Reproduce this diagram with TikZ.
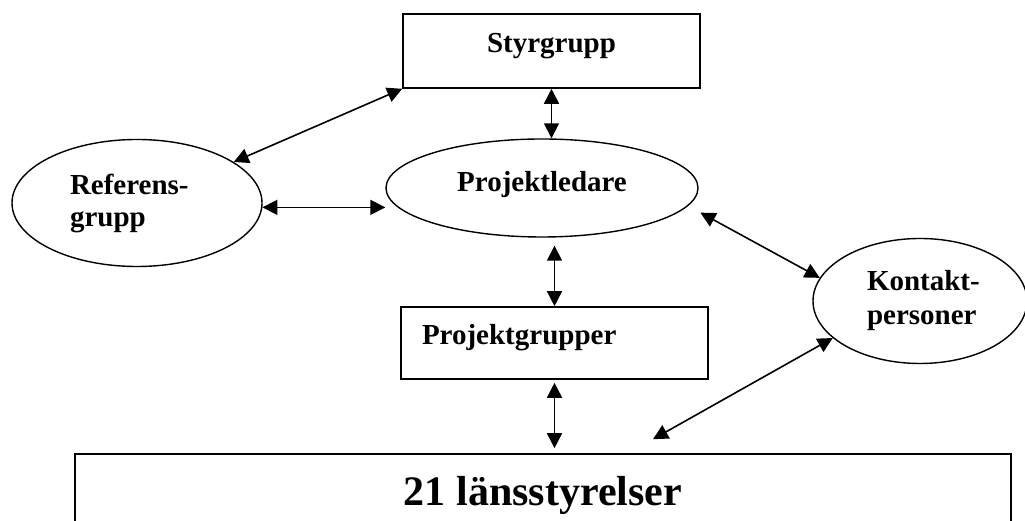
\documentclass[tikz,border=0pt]{standalone}
\usepackage{fontspec}
\setmainfont{Liberation Serif}
\usetikzlibrary{shapes.geometric,arrows.meta,positioning,calc}
\begin{document}
\begin{tikzpicture}[
				x=1pt,y=1pt,
				font=\bfseries\fontsize{29}{32}\selectfont,
				box/.style={draw,rectangle,line width=1.6pt,inner sep=0pt},
				oval/.style={draw,ellipse,line width=1.4pt,inner sep=0pt},
				link/.style={{Triangle[length=15pt,width=15pt]}-{Triangle[length=15pt,width=15pt]},line width=1.6pt}
			]
			\useasboundingbox (0,0) rectangle (1025,521);
			\node[box,minimum width=297pt,minimum height=74pt,text height=20pt,text depth=16pt] (styr) at (551.5,470) {Styrgrupp};
			\node[oval,minimum width=312pt,minimum height=98pt,text height=20pt,text depth=12pt] (pl) at (542,333) {Projektledare};
			\node[oval,minimum width=250pt,minimum height=127pt,text width=134pt,align=left] (ref) at (137,318) {Referens-\\grupp};
			\node[oval,minimum width=214pt,minimum height=125pt,text width=106pt,align=left,font=\bfseries\fontsize{29}{34}\selectfont] (kp) at (920,220) {\mbox{Kontakt-}\\personer};
			\node[box,minimum width=307pt,minimum height=72pt,text width=265pt,align=left,text height=20pt,text depth=16pt] (pg) at (554.5,178) {Projektgrupper};
			\node[box,minimum width=936pt,minimum height=107pt,text height=28pt,text depth=31pt,font=\bfseries\fontsize{42}{46}\selectfont] (lan) at (543,13.5) {21 länsstyrelser};
			\coordinate (lantop) at ([xshift=110pt,yshift=14pt]lan.north);
			\draw[link] (styr.south west) -- (ref.23);
			\draw[link] (styr.south) -- (styr.south |- pl.north);
			\draw[link] (ref.-2) -- (ref.-2 -| pl.west);
			\draw[link,shorten >=8pt] (pg.north) -- (pg.north |- pl.south);
			\draw[link,shorten <=3pt,shorten >=5pt] (pg.south) -- (pg.south |- lan.north);
			\draw[link,shorten <=14pt] (pl.-7) -- (kp.167);
			\draw[link] (kp.203) -- (lantop);
		\end{tikzpicture}
\end{document}
